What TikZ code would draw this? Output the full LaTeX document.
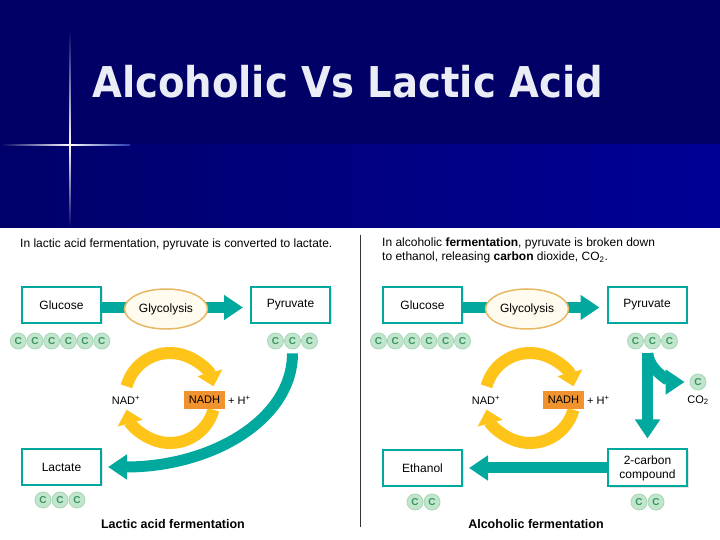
\documentclass[tikz,border=0pt]{standalone}
\usepackage{fontspec}
\setmainfont{Liberation Sans}
\newfontfamily\titlefont{DejaVu Sans}
\usetikzlibrary{arrows.meta,shadows,shapes.geometric}
\definecolor{navytop}{RGB}{0,0,102}
\definecolor{bandleft}{RGB}{0,0,106}
\definecolor{bandright}{RGB}{0,0,150}
\definecolor{flare}{RGB}{60,100,225}
\definecolor{titlec}{RGB}{234,236,246}
\definecolor{tealc}{RGB}{0,168,157}
\definecolor{goldc}{RGB}{255,196,25}
\definecolor{nadhc}{RGB}{240,146,45}
\definecolor{carbfill}{RGB}{194,229,205}
\definecolor{carbrim}{RGB}{165,214,182}
\definecolor{carbtext}{RGB}{55,150,95}
\definecolor{glycrim}{RGB}{232,184,100}
\definecolor{glycfill}{RGB}{255,251,238}
\tikzset{
  molbox/.style={draw=tealc, line width=2pt, fill=white, minimum width=79pt, minimum height=36pt,
    align=center, font=\fontsize{12}{14}\selectfont,
    drop shadow={shadow xshift=1.5pt, shadow yshift=-1.5pt, opacity=0.2}},
  glyc/.style={ellipse, draw=glycrim, line width=1.5pt, fill=glycfill, minimum width=83pt,
    minimum height=40pt, inner sep=0pt, font=\fontsize{12}{14}\selectfont},
  carbon/.style={circle, fill=carbfill, draw=carbrim, line width=0.8pt, minimum size=16pt,
    inner sep=0pt, text=carbtext, font=\fontsize{10}{11}\selectfont\bfseries},
  tealarrow/.style={draw=tealc, line width=11pt, -{Triangle[width=24pt,length=19pt]}},
  goldarrow/.style={draw=goldc, line width=12pt, -{Triangle[width=25pt,length=14pt]}},
  nadh/.style={fill=nadhc, inner sep=0pt, minimum height=18pt, minimum width=41pt,
    font=\fontsize{11}{13}\selectfont},
  plaintext/.style={font=\fontsize{11}{14}\selectfont, inner sep=0pt},
  headtext/.style={font=\fontsize{12}{14}\selectfont, inner sep=0pt},
  captext/.style={font=\fontsize{12.5}{15}\selectfont\bfseries}
}
\begin{document}
\begin{tikzpicture}[x=1pt,y=1pt]
    \useasboundingbox (0,0) rectangle (720,540);
    % title band
    \fill[navytop] (0,395) rectangle (720,540);
    \shade[left color=bandleft, right color=bandright] (0,312) rectangle (720,395);
    \fill[white] (0,0) rectangle (720,312);
    \shade[left color=navytop, right color=white] (0,394.5) rectangle (70,395.5);
    \shade[left color=white, right color=flare!60!navytop] (70,394.5) rectangle (130,395.5);
    \shade[top color=navytop, bottom color=white] (69.5,510) rectangle (70.5,395);
    \shade[top color=white, bottom color=navytop] (69.5,395) rectangle (70.5,312);
    \node[anchor=base west, inner sep=0pt, yscale=1.1, text=titlec,
      font=\titlefont\bfseries\fontsize{38.6}{44}\selectfont] (title) at (92,442) {Alcoholic Vs Lactic Acid};
    \draw[line width=1pt, black!80] (360,305) -- (360,13);

    % lactic acid fermentation
    \node[headtext, anchor=base west] (headL) at (20,292) {In lactic acid fermentation, pyruvate is converted to lactate.};
    \node[molbox] (gluL) at (61.5,235) {Glucose};
    \node[molbox] (pyrL) at (290.5,235) {Pyruvate};
    \node[molbox] (lacL) at (61.5,73) {Lactate};
    \foreach \i in {0,...,5} \node[carbon] (gluLc\i) at (18.3+16.7*\i,199) {C};
    \foreach \i in {1,2,3} \node[carbon] (pyrLc\i) at (258.5+17*\i,199) {C};
    \foreach \i in {1,2,3} \node[carbon] (lacLc\i) at (26+17*\i,40) {C};
    \draw[tealarrow, shorten >=7pt] ([yshift=-2.5pt]gluL.east) -- ([yshift=-2.5pt]pyrL.west);
    \node[glyc] (glyL) at (166,231) {Glycolysis};
    \draw[tealarrow, shorten <=4pt, shorten >=6pt] (pyrLc2.south) .. controls +(0,-70) and +(110,0) .. (lacL.east);
    \coordinate (cycL) at (170,142);
    \draw[goldarrow] ([shift={(165:45)}]cycL) arc (165:15:45);
    \draw[goldarrow] ([shift={(-15:45)}]cycL) arc (-15:-165:45);
    \node[plaintext] (nadL) at (126,140) {NAD\textsuperscript{+}};
    \node[nadh] (nadhL) at (204.5,140) {NADH};
    \node[plaintext, anchor=west] (hL) at (228,140) {+ H\textsuperscript{+}};
    \node[captext] (capL) at (173,16) {Lactic acid fermentation};

    % alcoholic fermentation
    \node[headtext, anchor=north west, align=left] (headR) at (382,302) {In alcoholic \textbf{fermentation}, pyruvate is broken down\\to ethanol, releasing \textbf{carbon} dioxide, CO\textsubscript{2}.};
    \node[molbox] (gluR) at (422.5,235) {Glucose};
    \node[molbox] (pyrR) at (647,235) {Pyruvate};
    \node[molbox] (ethR) at (422.5,72) {Ethanol};
    \node[molbox, minimum height=37pt] (twoC) at (647.5,72) {2-carbon\\compound};
    \foreach \i in {0,...,5} \node[carbon] (gluRc\i) at (378.5+16.8*\i,199) {C};
    \foreach \i in {1,2,3} \node[carbon] (pyrRc\i) at (618.5+17*\i,199) {C};
    \foreach \i in {1,2} \node[carbon] (ethRc\i) at (398+17*\i,38) {C};
    \foreach \i in {1,2} \node[carbon] (twoCc\i) at (622+17*\i,38) {C};
    \node[carbon] (co2) at (698,158) {C};
    \node[plaintext] (co2txt) at (698,140) {CO\textsubscript{2}};
    \draw[tealarrow, shorten >=7pt] ([yshift=-2.5pt]gluR.east) -- ([yshift=-2.5pt]pyrR.west);
    \node[glyc] (glyR) at (527,231) {Glycolysis};
    \draw[tealarrow, shorten <=4pt, shorten >=10pt] (twoC.north |- pyrRc2.south) -- (twoC.north);
    \draw[tealarrow, shorten <=4pt, shorten >=5pt] (twoC.north |- pyrRc2.south) .. controls +(2,-24) and +(-14,0) .. (co2.west);
    \draw[tealarrow, shorten >=6pt] (twoC.west) -- (ethR.east);
    \coordinate (cycR) at (530,142);
    \draw[goldarrow] ([shift={(165:45)}]cycR) arc (165:15:45);
    \draw[goldarrow] ([shift={(-15:45)}]cycR) arc (-15:-165:45);
    \node[plaintext] (nadR) at (486,140) {NAD\textsuperscript{+}};
    \node[nadh] (nadhR) at (563.5,140) {NADH};
    \node[plaintext, anchor=west] (hR) at (587,140) {+ H\textsuperscript{+}};
    \node[captext] (capR) at (536,16) {Alcoholic fermentation};
\end{tikzpicture}
\end{document}
